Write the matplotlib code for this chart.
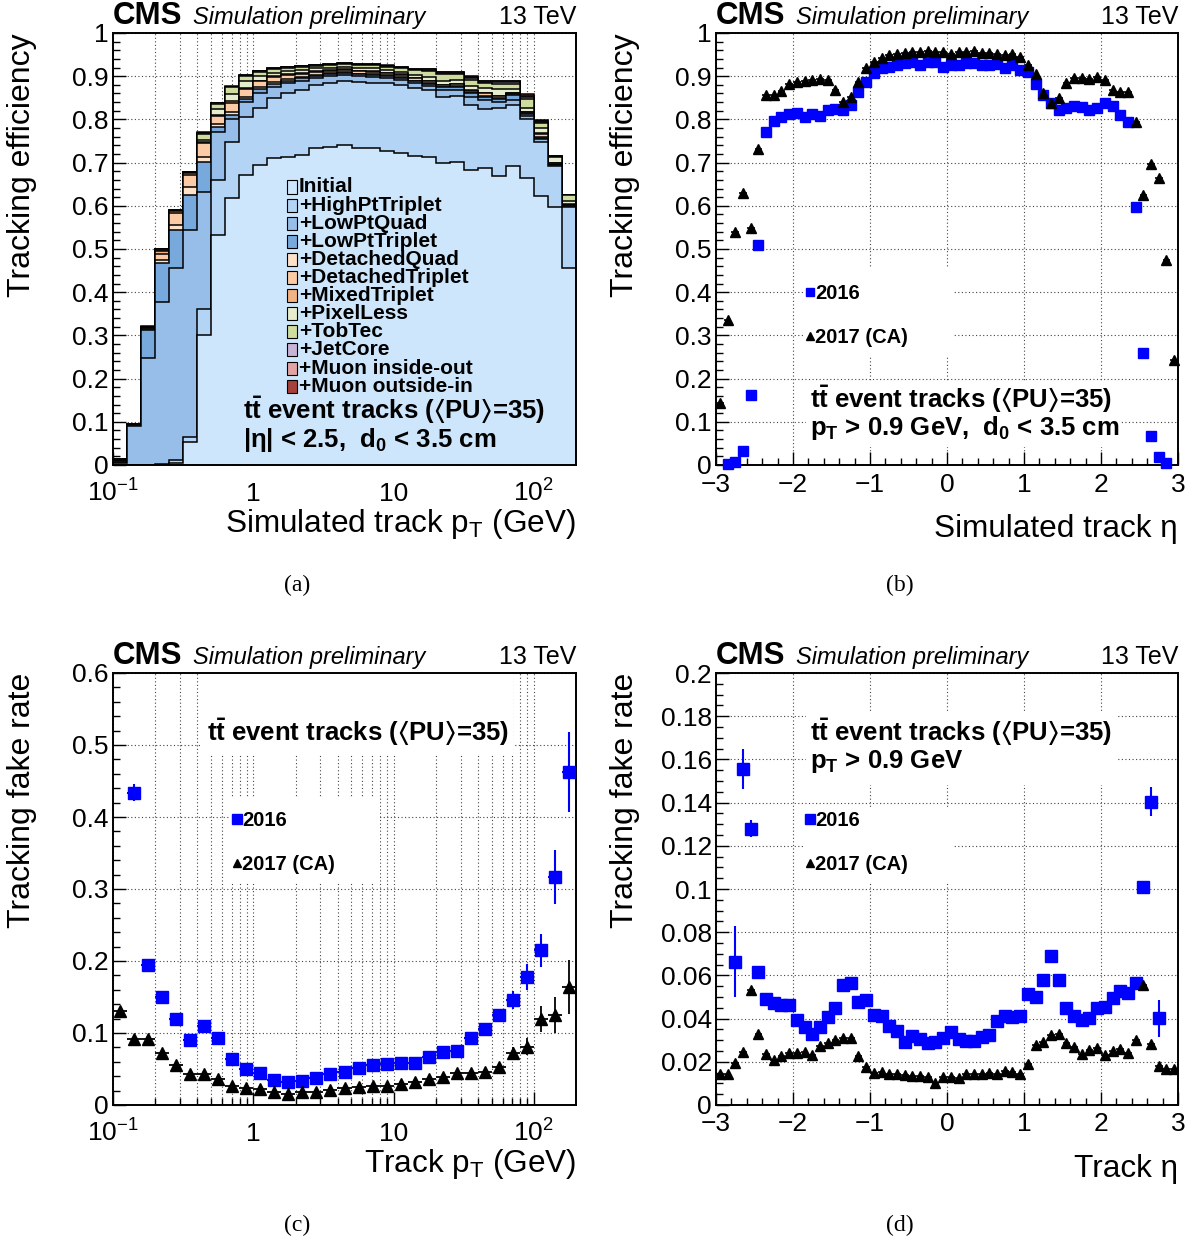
import numpy as np
import matplotlib
matplotlib.use("Agg")
import matplotlib.pyplot as plt
from matplotlib.patches import Rectangle
from matplotlib.lines import Line2D
from matplotlib.ticker import FixedLocator, MultipleLocator, FuncFormatter, NullFormatter

plt.rcParams['font.family'] = ['Liberation Sans', 'DejaVu Sans']
plt.rcParams['mathtext.fontset'] = 'custom'
plt.rcParams['mathtext.rm'] = 'Liberation Sans'
plt.rcParams['mathtext.it'] = 'Liberation Sans:italic'
plt.rcParams['mathtext.bf'] = 'Liberation Sans:bold'
plt.rcParams['mathtext.fallback'] = 'stixsans'

W, H = 1197, 1243

# ---- (a) cumulative efficiency vs pT after each iteration, 33 log bins 0.1-200 GeV
eff_initial = [0.000, 0.000, 0.000, 0.000, 0.005, 0.054, 0.300, 0.532, 0.617, 0.671, 0.694, 0.710, 0.712, 0.718, 0.733, 0.735, 0.741,
               0.733, 0.733, 0.728, 0.722, 0.716, 0.714, 0.698, 0.702, 0.684, 0.687, 0.669, 0.692, 0.665, 0.623, 0.598, 0.455]
eff_highpt_triplet = [0.000, 0.000, 0.000, 0.002, 0.012, 0.065, 0.360, 0.660, 0.748, 0.805, 0.826, 0.849, 0.860, 0.868, 0.880, 0.885, 0.890,
                      0.887, 0.884, 0.884, 0.880, 0.872, 0.868, 0.853, 0.854, 0.833, 0.823, 0.826, 0.833, 0.802, 0.748, 0.692, 0.598]
eff_lowpt_quad = [0.005, 0.090, 0.247, 0.378, 0.455, 0.544, 0.633, 0.771, 0.802, 0.840, 0.862, 0.876, 0.884, 0.890, 0.896, 0.900, 0.903,
                  0.900, 0.898, 0.896, 0.892, 0.884, 0.878, 0.868, 0.868, 0.853, 0.846, 0.840, 0.846, 0.809, 0.754, 0.694, 0.600]
eff_lowpt_triplet = [0.008, 0.092, 0.312, 0.468, 0.544, 0.625, 0.702, 0.783, 0.810, 0.848, 0.870, 0.883, 0.890, 0.895, 0.900, 0.904, 0.907,
                     0.904, 0.902, 0.900, 0.896, 0.888, 0.882, 0.874, 0.874, 0.860, 0.852, 0.848, 0.856, 0.812, 0.758, 0.695, 0.601]
eff_detached_quad = [0.009, 0.093, 0.314, 0.475, 0.556, 0.644, 0.712, 0.790, 0.818, 0.852, 0.874, 0.886, 0.893, 0.898, 0.903, 0.907, 0.909,
                     0.906, 0.904, 0.902, 0.898, 0.890, 0.884, 0.876, 0.877, 0.862, 0.855, 0.850, 0.858, 0.814, 0.760, 0.697, 0.602]
eff_detached_triplet = [0.010, 0.094, 0.316, 0.488, 0.584, 0.672, 0.745, 0.808, 0.838, 0.870, 0.888, 0.898, 0.903, 0.906, 0.910, 0.913, 0.915,
                        0.912, 0.910, 0.907, 0.903, 0.895, 0.889, 0.879, 0.881, 0.866, 0.860, 0.854, 0.861, 0.817, 0.767, 0.699, 0.603]
eff_mixed_triplet = [0.011, 0.094, 0.318, 0.495, 0.587, 0.676, 0.748, 0.810, 0.842, 0.872, 0.890, 0.900, 0.905, 0.908, 0.912, 0.914, 0.916,
                     0.913, 0.911, 0.908, 0.904, 0.896, 0.890, 0.880, 0.882, 0.867, 0.861, 0.855, 0.862, 0.818, 0.768, 0.700, 0.604]
eff_pixelless = [0.012, 0.094, 0.319, 0.497, 0.588, 0.677, 0.753, 0.824, 0.858, 0.888, 0.900, 0.908, 0.913, 0.915, 0.918, 0.920, 0.922,
                 0.919, 0.918, 0.914, 0.910, 0.903, 0.898, 0.890, 0.892, 0.877, 0.872, 0.870, 0.870, 0.826, 0.780, 0.712, 0.612]
eff_tobtec = [0.013, 0.095, 0.320, 0.499, 0.589, 0.678, 0.767, 0.836, 0.874, 0.900, 0.910, 0.916, 0.920, 0.922, 0.924, 0.926, 0.928,
              0.926, 0.926, 0.922, 0.919, 0.914, 0.912, 0.905, 0.905, 0.892, 0.884, 0.882, 0.882, 0.848, 0.792, 0.714, 0.624]
eff_jetcore = [0.013, 0.095, 0.320, 0.500, 0.590, 0.679, 0.768, 0.837, 0.875, 0.901, 0.911, 0.917, 0.921, 0.923, 0.925, 0.927, 0.929,
               0.927, 0.927, 0.923, 0.920, 0.915, 0.914, 0.907, 0.907, 0.896, 0.887, 0.886, 0.886, 0.852, 0.795, 0.715, 0.625]
eff_muon_io = [0.014, 0.095, 0.320, 0.500, 0.590, 0.679, 0.769, 0.837, 0.876, 0.902, 0.912, 0.918, 0.922, 0.924, 0.926, 0.928, 0.930,
               0.928, 0.928, 0.924, 0.921, 0.916, 0.916, 0.909, 0.909, 0.898, 0.889, 0.888, 0.888, 0.855, 0.797, 0.716, 0.625]
eff_muon_oi = [0.015, 0.096, 0.321, 0.500, 0.590, 0.679, 0.770, 0.838, 0.877, 0.903, 0.913, 0.918, 0.922, 0.924, 0.926, 0.928, 0.930,
               0.929, 0.929, 0.925, 0.922, 0.917, 0.917, 0.910, 0.910, 0.900, 0.890, 0.890, 0.890, 0.858, 0.799, 0.716, 0.626]

iter_labels = ["Initial", "+HighPtTriplet", "+LowPtQuad", "+LowPtTriplet", "+DetachedQuad", "+DetachedTriplet",
               "+MixedTriplet", "+PixelLess", "+TobTec", "+JetCore", "+Muon inside-out", "+Muon outside-in"]
iter_colors = ["#cde6fb", "#b3d4f4", "#96bee8", "#78a9dc", "#fde2c8", "#facba4", "#f4b283",
               "#e5edcc", "#cedc9f", "#c7b3d5", "#e2a3a3", "#a6403a"]

# ---- (b) efficiency vs eta, 60 bins from -3 to 3
eff_2016_eta = [np.nan, 0.003, 0.008, 0.032, 0.162, 0.509, 0.771, 0.797, 0.805, 0.812, 0.814, 0.805, 0.812, 0.809, 0.822,
                0.825, 0.822, 0.833, 0.864, 0.887, 0.908, 0.918, 0.922, 0.926, 0.930, 0.932, 0.927, 0.934, 0.932, 0.921,
                0.926, 0.926, 0.930, 0.930, 0.926, 0.927, 0.928, 0.920, 0.927, 0.914, 0.909, 0.883, 0.856, 0.837, 0.822,
                0.827, 0.831, 0.828, 0.822, 0.826, 0.839, 0.832, 0.810, 0.795, 0.598, 0.260, 0.066, 0.019, 0.004, np.nan]
eff_2017_eta = [0.143, 0.336, 0.540, 0.629, 0.548, 0.731, 0.856, 0.856, 0.866, 0.883, 0.886, 0.890, 0.891, 0.893, 0.891,
                0.868, 0.841, 0.851, 0.887, 0.920, 0.934, 0.941, 0.949, 0.951, 0.954, 0.955, 0.955, 0.959, 0.957, 0.955,
                0.951, 0.955, 0.957, 0.958, 0.954, 0.953, 0.951, 0.949, 0.951, 0.944, 0.927, 0.905, 0.860, 0.839, 0.850,
                0.884, 0.895, 0.895, 0.894, 0.897, 0.891, 0.868, 0.864, 0.863, 0.795, 0.625, 0.697, 0.664, 0.475, 0.242]

# ---- (c) fake rate vs pT, same log binning as (a)
fake_2016_pt = [np.nan, 0.434, 0.195, 0.150, 0.119, 0.090, 0.110, 0.0935, 0.064, 0.0495, 0.045, 0.035, 0.032, 0.033, 0.038,
                0.043, 0.046, 0.051, 0.055, 0.057, 0.058, 0.059, 0.067, 0.074, 0.075, 0.093, 0.106, 0.125, 0.146, 0.178,
                0.215, 0.316, 0.462]
fake_2016_pt_err = [np.nan, 0.012, 0.004, 0.003, 0.003, 0.003, 0.003, 0.003, 0.002, 0.002, 0.002, 0.002, 0.002, 0.002, 0.002,
                    0.002, 0.002, 0.002, 0.002, 0.002, 0.002, 0.002, 0.002, 0.003, 0.003, 0.004, 0.005, 0.009, 0.012, 0.018,
                    0.023, 0.0375, 0.0555]
fake_2017_pt = [0.131, 0.091, 0.091, 0.072, 0.055, 0.043, 0.043, 0.036, 0.027, 0.023, 0.022, 0.0175, 0.015, 0.0175, 0.0175,
                0.021, 0.024, 0.0255, 0.027, 0.027, 0.029, 0.032, 0.036, 0.039, 0.044, 0.044, 0.046, 0.053, 0.072, 0.081,
                0.120, 0.125, 0.164]
fake_2017_pt_err = [0.003, 0.002, 0.002, 0.002, 0.002, 0.002, 0.002, 0.002, 0.002, 0.002, 0.002, 0.002, 0.002, 0.002, 0.002,
                    0.002, 0.002, 0.002, 0.002, 0.002, 0.002, 0.002, 0.002, 0.002, 0.003, 0.003, 0.004, 0.006, 0.008, 0.012,
                    0.018, 0.025, 0.038]

# ---- (d) fake rate vs eta
fake_2016_eta = [np.nan, np.nan, 0.0664, 0.1556, 0.128, 0.0617, 0.049, 0.047, 0.0463, 0.0463, 0.0394, 0.0363, 0.0329, 0.0363,
                 0.0409, 0.0451, 0.0556, 0.0566, 0.0478, 0.0486, 0.0417, 0.0412, 0.0366, 0.0344, 0.0293, 0.0319, 0.0306,
                 0.0289, 0.0293, 0.0312, 0.034, 0.0304, 0.0298, 0.0298, 0.0316, 0.0324, 0.0389, 0.0414, 0.0406, 0.0412,
                 0.0512, 0.0502, 0.0579, 0.0691, 0.0579, 0.0451, 0.0412, 0.0394, 0.0401, 0.0451, 0.0455, 0.0497, 0.0528,
                 0.0517, 0.0563, 0.1011, 0.1404, 0.0401, np.nan, np.nan]
fake_2016_eta_err = [np.nan, np.nan, 0.0164, 0.0093, 0.004] + [0.001] * 50 + [0.002, 0.0066, 0.0085, np.nan, np.nan]
fake_2017_eta = [0.0142, 0.0142, 0.0193, 0.0244, 0.0532, 0.0329, 0.0235, 0.0208, 0.0228, 0.0242, 0.0239, 0.0247, 0.0231,
                 0.0273, 0.0285, 0.0301, 0.0312, 0.0309, 0.0227, 0.0174, 0.0147, 0.0154, 0.0142, 0.0142, 0.0139, 0.0134,
                 0.0134, 0.0131, 0.0100, 0.0131, 0.0128, 0.0123, 0.0142, 0.0142, 0.0142, 0.0147, 0.0142, 0.0157, 0.0151,
                 0.0144, 0.0188, 0.0278, 0.0293, 0.0324, 0.0327, 0.0285, 0.0270, 0.0235, 0.0255, 0.0265, 0.0231, 0.0250,
                 0.0258, 0.0239, 0.0301, 0.0556, 0.0281, 0.0181, 0.0165, 0.0165]

pt_edges = 10 ** np.linspace(-1, 2.3, 34)
pt_centers = np.sqrt(pt_edges[:-1] * pt_edges[1:])
pt_xerr = [pt_centers - pt_edges[:-1], pt_edges[1:] - pt_centers]
eta_edges = np.linspace(-3, 3, 61)
eta_centers = 0.5 * (eta_edges[:-1] + eta_edges[1:])

TTBAR = r'$\mathbf{t\bar{t}}$ event tracks ($\mathbf{\langle}$PU$\mathbf{\rangle}$=35)'


def fx(x):
    return x / W


def fy(y):
    return 1 - y / H


def box(l, t, r, b):
    return [fx(l), fy(b), (r - l) / W, (b - t) / H]


fig = plt.figure(figsize=(W / 100, H / 100), dpi=100)

ax_a = fig.add_axes(box(113, 33, 576, 465))
ax_b = fig.add_axes(box(716, 33, 1178, 465))
ax_c = fig.add_axes(box(113, 673, 576, 1105))
ax_d = fig.add_axes(box(716, 673, 1178, 1105))

dotted = (0, (1, 2.2))


def root_style(ax, log_x, xpad):
    for s in ax.spines.values():
        s.set_linewidth(1.4)
    ax.tick_params(which='both', direction='in', top=False, right=False, labelsize=19, width=1.0)
    ax.tick_params(which='major', length=9.5)
    ax.tick_params(which='minor', length=5)
    ax.tick_params(axis='y', pad=3)
    ax.tick_params(axis='x', pad=xpad)
    ax.yaxis.set_major_formatter(FuncFormatter(lambda v, p: '%g' % round(v, 4)))
    ax.set_axisbelow(True)
    ax.grid(True, which='major', axis='y', ls=dotted, color='#444444', lw=0.8)
    if log_x:
        ax.set_xscale('log')
        ax.set_xlim(0.1, 10 ** 2.3)
        ax.xaxis.set_major_locator(FixedLocator([0.1, 1, 10, 100]))
        ax.set_xticklabels([r'$10^{-1}$', '1', '10', r'$10^{2}$'])
        minors = [k * 10.0 ** d for d in range(-1, 3) for k in range(2, 10) if k * 10.0 ** d < 10 ** 2.3]
        ax.xaxis.set_minor_locator(FixedLocator(minors))
        ax.xaxis.set_minor_formatter(NullFormatter())
        ax.grid(True, which='both', axis='x', ls=dotted, color='#444444', lw=0.8)
    else:
        ax.set_xlim(-3, 3)
        ax.xaxis.set_major_locator(MultipleLocator(1))
        ax.xaxis.set_minor_locator(MultipleLocator(0.2))
        ax.grid(True, which='major', axis='x', ls=dotted, color='#444444', lw=0.8)
    plt.setp(ax.get_xticklabels(), va='baseline')


def header(ax_left, ax_right, base_y):
    fig.text(fx(ax_left), fy(base_y), 'CMS', fontsize=22.5, fontweight='bold', va='baseline', ha='left')
    fig.text(fx(ax_left + 80), fy(base_y), 'Simulation preliminary', fontsize=17, style='italic',
             va='baseline', ha='left')
    fig.text(fx(ax_right), fy(base_y), '13 TeV', fontsize=18, va='baseline', ha='right')


def white_box(ax, l, t, r, b):
    ax.add_patch(Rectangle((fx(l), fy(b)), (r - l) / W, (b - t) / H, transform=fig.transFigure,
                           facecolor='white', edgecolor='none', zorder=1.5))


def year_legend(ax, x, y, ms_sq, ms_tri):
    handles = [Line2D([], [], ls='none', marker='s', color='blue', ms=ms_sq * 0.85),
               Line2D([], [], ls='none', marker='^', color='black', ms=ms_tri * 0.7)]
    ax.legend(handles, ['2016', '2017 (CA)'], loc='upper left', bbox_to_anchor=(fx(x), fy(y)),
              bbox_transform=fig.transFigure, frameon=False, prop={'weight': 'bold', 'size': 14.5},
              handlelength=0.55, handletextpad=0.0, labelspacing=1.25, borderpad=0, borderaxespad=0)


# ---------------- (a)
root_style(ax_a, True, 26)
ax_a.set_ylim(0, 1)
ax_a.yaxis.set_major_locator(MultipleLocator(0.1))
ax_a.yaxis.set_minor_locator(MultipleLocator(0.02))
layers = [eff_initial, eff_highpt_triplet, eff_lowpt_quad, eff_lowpt_triplet, eff_detached_quad, eff_detached_triplet,
          eff_mixed_triplet, eff_pixelless, eff_tobtec, eff_jetcore, eff_muon_io, eff_muon_oi]
for vals, col in reversed(list(zip(layers, iter_colors))):
    ax_a.stairs(vals, pt_edges, baseline=0, fill=True, color=col, zorder=2)
    ax_a.stairs(vals, pt_edges, baseline=0, color='black', lw=1.1, zorder=2)

for i, (lab, col) in enumerate(zip(iter_labels, iter_colors)):
    yc = 187 + 18.1 * i
    ax_a.add_patch(Rectangle((fx(287), fy(yc + 6.5)), 10 / W, 13 / H, transform=fig.transFigure,
                             facecolor=col, edgecolor='black', lw=0.8, zorder=5))
    fig.text(fx(299), fy(yc), lab, fontsize=15, fontweight='bold', va='center', ha='left', zorder=5)

fig.text(fx(243), fy(418), TTBAR, fontsize=18.5, fontweight='bold', va='baseline', ha='left')
fig.text(fx(243), fy(447), r'|η| < 2.5,  d$_{\mathbf{0}}$ < 3.5 cm', fontsize=18.5, fontweight='bold',
         va='baseline', ha='left')

# ---------------- (b)
root_style(ax_b, False, 19.5)
ax_b.set_ylim(0, 1)
ax_b.yaxis.set_major_locator(MultipleLocator(0.1))
ax_b.yaxis.set_minor_locator(MultipleLocator(0.02))
ax_b.errorbar(eta_centers, eff_2016_eta, xerr=0.05, fmt='s', color='blue', ms=7.3, elinewidth=1.2, capsize=0,
              zorder=4, clip_on=False)
ax_b.errorbar(eta_centers, eff_2017_eta, xerr=0.05, fmt='^', color='black', ms=7.5, elinewidth=1.2, capsize=0,
              zorder=4, clip_on=False)
white_box(ax_b, 803, 268, 953, 357)
year_legend(ax_b, 804, 284, 7.3, 7.5)
white_box(ax_b, 806, 382, 1120, 447)
fig.text(fx(810), fy(407), TTBAR, fontsize=18.5, fontweight='bold', va='baseline', ha='left')
fig.text(fx(810), fy(435), r'p$_{\mathbf{T}}$ > 0.9 GeV,  d$_{\mathbf{0}}$ < 3.5 cm', fontsize=18.5,
         fontweight='bold', va='baseline', ha='left')

# ---------------- (c)
root_style(ax_c, True, 26)
ax_c.set_ylim(0, 0.6)
ax_c.yaxis.set_major_locator(MultipleLocator(0.1))
ax_c.yaxis.set_minor_locator(MultipleLocator(0.02))
ax_c.errorbar(pt_centers, fake_2016_pt, yerr=fake_2016_pt_err, xerr=pt_xerr, fmt='s', color='blue', ms=8.5,
              elinewidth=1.5, capsize=0, zorder=4)
ax_c.errorbar(pt_centers, fake_2017_pt, yerr=fake_2017_pt_err, xerr=pt_xerr, fmt='^', color='black', ms=8,
              elinewidth=1.3, capsize=0, zorder=4)
white_box(ax_c, 200, 674, 513, 755)
fig.text(fx(207), fy(740), TTBAR, fontsize=18.5, fontweight='bold', va='baseline', ha='left')
white_box(ax_c, 230, 797, 380, 882)
year_legend(ax_c, 231, 811, 8.5, 8)

# ---------------- (d)
root_style(ax_d, False, 19)
ax_d.set_ylim(0, 0.2)
ax_d.yaxis.set_major_locator(MultipleLocator(0.02))
ax_d.yaxis.set_minor_locator(MultipleLocator(0.005))
ax_d.errorbar(eta_centers, fake_2016_eta, yerr=fake_2016_eta_err, xerr=0.05, fmt='s', color='blue', ms=8.3,
              elinewidth=1.5, capsize=0, zorder=4)
ax_d.errorbar(eta_centers, fake_2017_eta, xerr=0.05, fmt='^', color='black', ms=7.8, elinewidth=1.2, capsize=0,
              zorder=4)
white_box(ax_d, 806, 712, 1117, 785)
fig.text(fx(810), fy(740), TTBAR, fontsize=18.5, fontweight='bold', va='baseline', ha='left')
fig.text(fx(810), fy(768), r'p$_{\mathbf{T}}$ > 0.9 GeV', fontsize=18.5, fontweight='bold', va='baseline', ha='left')
white_box(ax_d, 803, 807, 953, 883)
year_legend(ax_d, 804, 811, 8.3, 7.8)

# ---------------- headers, axis titles, captions
for left, right, top in [(113, 576, 33), (716, 1178, 33), (113, 576, 673), (716, 1178, 673)]:
    header(left, right, top - 9)

fig.text(fx(22), fy(33), 'Tracking efficiency', rotation=90, fontsize=23, ha='center', va='top')
fig.text(fx(625), fy(33), 'Tracking efficiency', rotation=90, fontsize=23, ha='center', va='top')
fig.text(fx(22), fy(673), 'Tracking fake rate', rotation=90, fontsize=23, ha='center', va='top')
fig.text(fx(625), fy(673), 'Tracking fake rate', rotation=90, fontsize=23, ha='center', va='top')

fig.text(fx(576), fy(532), r'Simulated track p$_{\mathrm{T}}$ (GeV)', fontsize=22.7, ha='right', va='baseline')
fig.text(fx(1178), fy(537), 'Simulated track η', fontsize=22.7, ha='right', va='baseline')
fig.text(fx(576), fy(1172), r'Track p$_{\mathrm{T}}$ (GeV)', fontsize=22.7, ha='right', va='baseline')
fig.text(fx(1178), fy(1177), 'Track η', fontsize=22.7, ha='right', va='baseline')

for cap, x, y in [('(a)', 297, 585), ('(b)', 900, 585), ('(c)', 297, 1225), ('(d)', 900, 1225)]:
    fig.text(fx(x), fy(y), cap, fontsize=17, family='Liberation Serif', ha='center', va='center')

fig.savefig('out.png', dpi=100)
